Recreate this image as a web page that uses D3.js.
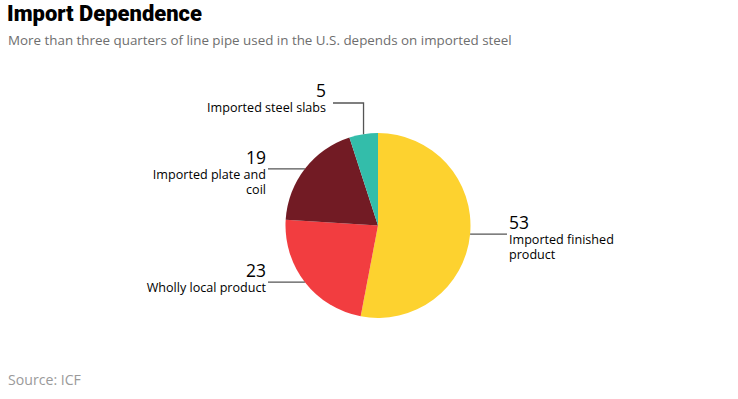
<!DOCTYPE html>
<html><head><meta charset="utf-8">
<script src="https://cdn.jsdelivr.net/npm/d3@7"></script>
<style>
body{margin:0;background:#fff;}
svg{display:block;}
</style></head>
<body>
<svg id="c" width="738" height="399"></svg>
<script>
const categories = ["Imported finished product","Wholly local product","Imported plate and coil","Imported steel slabs"];
const values = [53, 23, 19, 5];
const labelLines = [["Imported finished","product"],["Wholly local product"],["Imported plate and","coil"],["Imported steel slabs"]];
const colors = ["#FDD22F","#F23D40","#721B24","#33BDAA"];
const titleText = "Import Dependence";
const subtitleText = "More than three quarters of line pipe used in the U.S. depends on imported steel";
const sourceText = "Source: ICF";

const svg = d3.select("#c");
const cx = 378, cy = 225.5, R = 92.5;
const font = "'Open Sans', Lato, sans-serif";

function fitText(sel, w){
  const n = sel.node(); const cur = n.getComputedTextLength();
  const fs = parseFloat(sel.attr("font-size"));
  const nf = fs * w / cur;
  sel.attr("font-size", nf);
  return nf;
}

const t = svg.append("text").attr("x",7).attr("y",21).text(titleText)
  .attr("font-family","Roboto, 'Inter', sans-serif").attr("font-weight",900).attr("font-size",20).attr("fill","#000");
fitText(t,195);
const st = svg.append("text").attr("x",8).attr("y",45).text(subtitleText)
  .attr("font-family",font).attr("font-size",14).attr("fill","#6e6e6e");
fitText(st,504);
const so = svg.append("text").attr("x",8).attr("y",385).text(sourceText)
  .attr("font-family",font).attr("font-size",12.5).attr("fill","#9a9a9a");
fitText(so,73);

// measure label size
const probe = svg.append("text").attr("font-family",font).attr("font-size",11).text("Imported steel slabs");
const labelFs = fitText(probe,119);
probe.remove();
const probe2 = svg.append("text").attr("font-family",font).attr("font-size",16).text("53");
const numFs = fitText(probe2,20);
probe2.remove();

const pie = d3.pie().sort(null).value(d=>d)(values);
const arc = d3.arc().innerRadius(0).outerRadius(R);
const g = svg.append("g").attr("transform",`translate(${cx},${cy})`);
g.selectAll("path").data(pie).join("path").attr("d",arc).attr("fill",(d,i)=>colors[i]);

const mid = d => (d.startAngle + d.endAngle)/2;
const edge = d => [R*Math.sin(mid(d)), -R*Math.cos(mid(d))];

pie.forEach((d,i)=>{
  const [ex,ey] = edge(d);
  const px = cx+ex, py = cy+ey;
  let pts, anchor, tx, ty;
  if (i===3){
    pts = [[px,py],[px,103],[333,103]];
    anchor="end"; tx=326; ty=97;
  } else if (ex>0){
    pts = [[px,py],[507,py]];
    anchor="start"; tx=509; ty=py-5;
  } else {
    pts = [[px,py],[268,py]];
    anchor="end"; tx=266; ty=py-5;
  }
  svg.append("path").attr("d",d3.line()(pts)).attr("fill","none").attr("stroke","#555").attr("stroke-width",1.3);
  svg.append("text").attr("x",tx).attr("y",ty).attr("text-anchor",anchor)
    .attr("font-family",font).attr("font-size",numFs).attr("fill","#000").text(values[i]);
  labelLines[i].forEach((ln,k)=>{
    svg.append("text").attr("x",tx).attr("y",ty+15+k*15).attr("text-anchor",anchor)
      .attr("font-family",font).attr("font-size",labelFs).attr("fill","#000").text(ln);
  });
});
</script>
</body></html>
